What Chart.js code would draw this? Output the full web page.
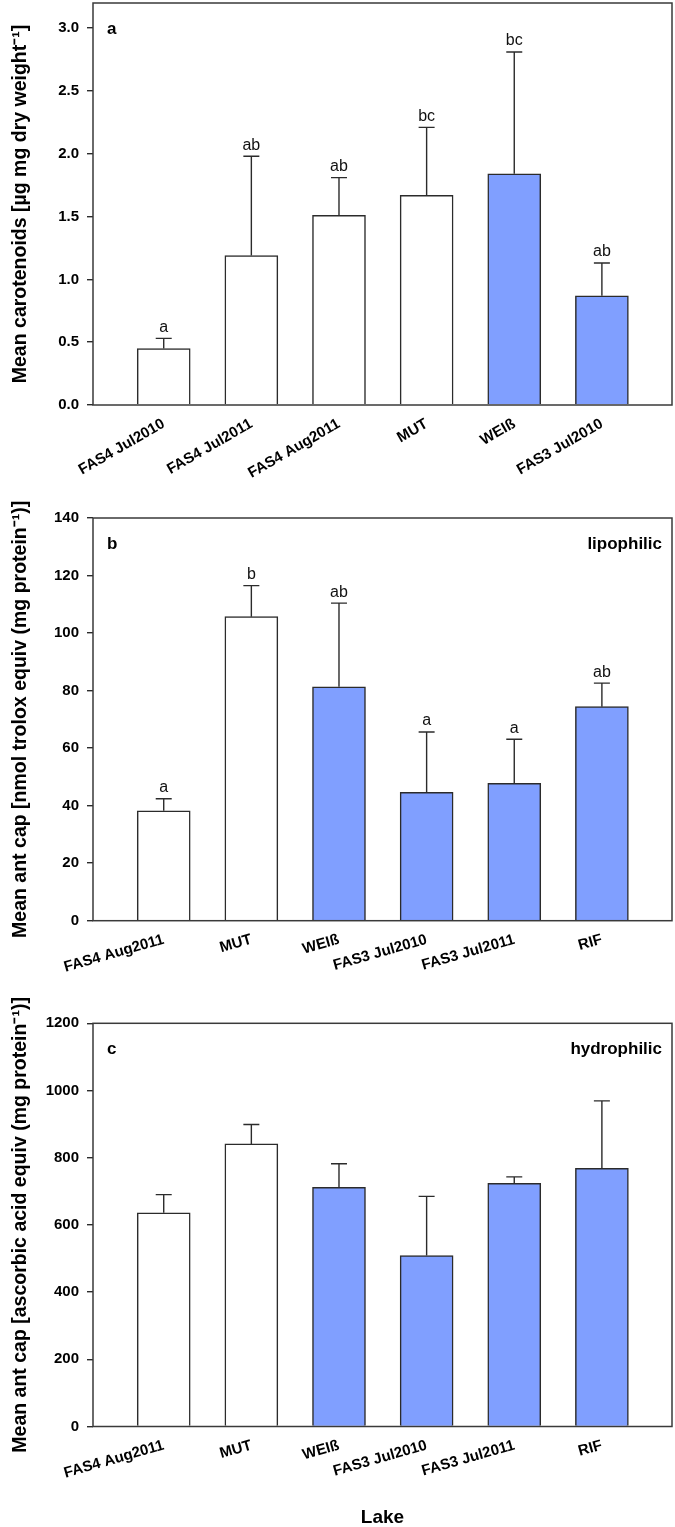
<!DOCTYPE html>
<html>
<head>
<meta charset="utf-8">
<script src="https://cdn.jsdelivr.net/npm/chart.js@4.4.1/dist/chart.umd.min.js"></script>
<style>
  html, body { margin: 0; padding: 0; background: #fff; }
  body { width: 675px; height: 1527px; position: relative; overflow: hidden; }
  canvas { position: absolute; left: 0; }
</style>
</head>
<body>
<canvas id="chartA" width="675" height="480" style="top:0"></canvas>
<canvas id="chartB" width="675" height="510" style="top:490px"></canvas>
<canvas id="chartC" width="675" height="537" style="top:990px"></canvas>
<script>
// ─── DATA ───
const catsA    = ['FAS4 Jul2010', 'FAS4 Jul2011', 'FAS4 Aug2011', 'MUT', 'WEIß', 'FAS3 Jul2010'];
const meanA    = [0.45, 1.19, 1.51, 1.67, 1.84, 0.87];
const sdA      = [0.08, 0.79, 0.30, 0.54, 0.97, 0.26];
const lettersA = ['a', 'ab', 'ab', 'bc', 'bc', 'ab'];
const shadedA  = [false, false, false, false, true, true];
const ticksA   = [0, 0.5, 1.0, 1.5, 2.0, 2.5, 3.0];

const catsB    = ['FAS4 Aug2011', 'MUT', 'WEIß', 'FAS3 Jul2010', 'FAS3 Jul2011', 'RIF'];
const meanB    = [38.2, 105.7, 81.3, 44.6, 47.8, 74.4];
const sdB      = [4.2, 10.8, 29.1, 21.0, 15.3, 8.2];
const lettersB = ['a', 'b', 'ab', 'a', 'a', 'ab'];
const shadedB  = [false, false, true, true, true, true];
const ticksB   = [0, 20, 40, 60, 80, 100, 120, 140];

const catsC    = ['FAS4 Aug2011', 'MUT', 'WEIß', 'FAS3 Jul2010', 'FAS3 Jul2011', 'RIF'];
const meanC    = [636, 841, 712, 509, 724, 768];
const sdC      = [54, 58, 70, 176, 19, 201];
const shadedC  = [false, false, true, true, true, true];
const ticksC   = [0, 200, 400, 600, 800, 1000, 1200];

// ─── STYLE ───
const FONT = "'Liberation Sans', Arial, sans-serif";
const BLUE = '#809fff';
const INK  = '#2b2b2b';
Chart.defaults.font.family = FONT;
Chart.defaults.color = '#000';
Chart.defaults.animation = false;

// error bars, significance letters, frame, panel tags
const panelDecor = {
  id: 'panelDecor',
  afterDatasetsDraw(chart, args, opts) {
    const { ctx, chartArea: a, scales: { y } } = chart;
    const meta = chart.getDatasetMeta(0);
    ctx.save();
    ctx.strokeStyle = INK;
    ctx.lineWidth = 1.4;
    ctx.fillStyle = '#111';
    ctx.font = `16px ${FONT}`;
    ctx.textAlign = 'center';
    ctx.textBaseline = 'bottom';
    meta.data.forEach((bar, i) => {
      const top = y.getPixelForValue(opts.means[i] + opts.sds[i]);
      ctx.beginPath();
      ctx.moveTo(bar.x, bar.y);
      ctx.lineTo(bar.x, top);
      ctx.moveTo(bar.x - 8, top);
      ctx.lineTo(bar.x + 8, top);
      ctx.stroke();
      if (opts.letters) ctx.fillText(opts.letters[i], bar.x, top - 3);
    });
    // box
    ctx.strokeStyle = '#3a3a3a';
    ctx.lineWidth = 1.5;
    ctx.strokeRect(a.left, a.top, a.right - a.left, a.bottom - a.top);
    // tags
    ctx.fillStyle = '#000';
    ctx.font = `bold 17px ${FONT}`;
    ctx.textBaseline = 'middle';
    ctx.textAlign = 'left';
    ctx.fillText(opts.tag, a.left + 14, a.top + 26);
    if (opts.note) {
      ctx.textAlign = 'right';
      ctx.fillText(opts.note, a.right - 10, a.top + 26);
    }
    ctx.restore();
  }
};

// ─── PANEL ───
function buildPanel(id, cats, means, sds, shaded, yTicks, o) {
  const ctx = document.getElementById(id);
  return new Chart(ctx, {
    type: 'bar',
    data: {
      datasets: [{
        data: means.map((v, i) => ({ x: i, y: v })),
        backgroundColor: shaded.map(s => s ? BLUE : '#fff'),
        borderColor: INK,
        borderWidth: 1.5,
        barThickness: 53,
      }],
    },
    options: {
      responsive: false,
      layout: { padding: { top: o.padTop, right: 3, left: 0, bottom: 0 } },
      plugins: {
        legend: { display: false },
        tooltip: { enabled: false },
        panelDecor: { means, sds, letters: o.letters, tag: o.tag, note: o.note },
      },
      scales: {
        x: {
          type: 'linear', offset: false, min: -0.807, max: 5.8,
          afterBuildTicks: s => { s.ticks = cats.map((c, i) => ({ value: i })); },
          afterFit: s => { s.height = o.xHeight; s.paddingLeft = 0; s.paddingRight = 0; },
          grid: { display: false },
          border: { display: false },
          ticks: {
            autoSkip: false, minRotation: o.rot, maxRotation: o.rot, padding: 2,
            font: { size: 15, weight: 'bold' },
            callback: v => cats[v],
          },
          title: o.xTitle
            ? { display: true, text: o.xTitle, font: { size: 19, weight: 'bold' }, padding: { top: 0, bottom: -2 } }
            : { display: false },
        },
        y: {
          min: 0, max: o.yMax,
          afterBuildTicks: s => { s.ticks = yTicks.map(v => ({ value: v })); },
          afterFit: s => { s.width = 93; s.paddingTop = 0; s.paddingBottom = 0; },
          grid: { drawOnChartArea: false, tickLength: 6, color: INK, lineWidth: 1.4 },
          border: { display: false },
          ticks: { padding: 8, font: { size: 15, weight: 'bold' }, callback: o.fmt },
          title: { display: true, text: o.yTitle, font: { size: 19.5, weight: 'bold' }, padding: { top: 9, bottom: 0 } },
        },
      },
    },
    plugins: [panelDecor],
  });
}

buildPanel('chartA', catsA, meanA, sdA, shadedA, ticksA, {
  padTop: 3, xHeight: 75, rot: 30, yMax: 3.2, fmt: v => v.toFixed(1),
  yTitle: 'Mean carotenoids [µg mg dry weight⁻¹]', letters: lettersA, tag: 'a',
});
buildPanel('chartB', catsB, meanB, sdB, shadedB, ticksB, {
  padTop: 28, xHeight: 79.3, rot: 16, yMax: 140, fmt: v => v,
  yTitle: 'Mean ant cap [nmol trolox equiv (mg protein⁻¹)]', letters: lettersB, tag: 'b', note: 'lipophilic',
});
buildPanel('chartC', catsC, meanC, sdC, shadedC, ticksC, {
  padTop: 33.3, xHeight: 100.5, rot: 16, yMax: 1200, fmt: v => v,
  yTitle: 'Mean ant cap [ascorbic acid equiv (mg protein⁻¹)]', tag: 'c', note: 'hydrophilic', xTitle: 'Lake',
});
</script>
</body>
</html>
